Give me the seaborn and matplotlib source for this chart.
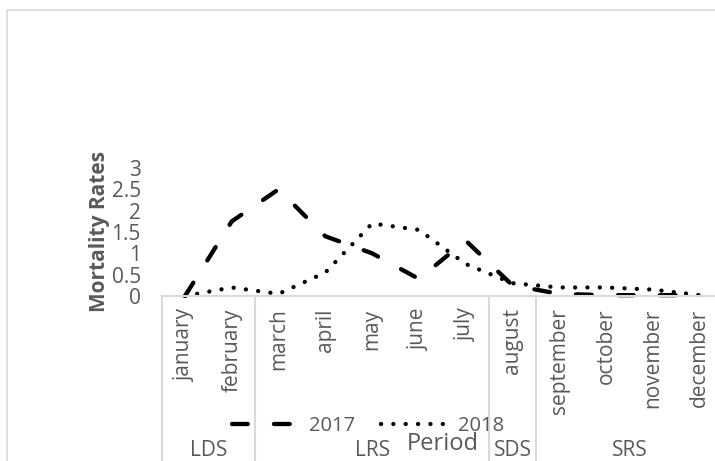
import matplotlib
matplotlib.use("Agg")
import matplotlib.pyplot as plt
import matplotlib.patches as mpatches
from matplotlib.lines import Line2D
import seaborn as sns
import pandas as pd

# Monthly mortality rates per year
months = ["january", "february", "march", "april", "may", "june",
          "july", "august", "september", "october", "november", "december"]
rates_2017 = [0.0, 1.75, 2.5, 1.4, 1.0, 0.4, 1.3, 0.25, 0.05, 0.02, 0.02, 0.02]
rates_2018 = [0.0, 0.2, 0.05, 0.55, 1.7, 1.55, 0.75, 0.3, 0.2, 0.2, 0.15, 0.02]
years = ["2017", "2018"]

# Season groups: (label, first month index, last month index)
season_labels = ["LDS", "LRS", "SDS", "SRS"]
season_first = [0, 2, 7, 8]
season_last = [1, 6, 7, 11]

yticks = [0, 0.5, 1, 1.5, 2, 2.5, 3]
ytick_labels = ["0", "0.5", "1", "1.5", "2", "2.5", "3"]

df = pd.DataFrame({
    "month": months * 2,
    "rate": rates_2017 + rates_2018,
    "year": [years[0]] * len(months) + [years[1]] * len(months),
})

sns.set_theme(style="white")
plt.rcParams["font.family"] = ["Open Sans", "DejaVu Sans"]

TXT = "#595959"
GRID = "#d9d9d9"
FS = 15
LW = 3.1
DASH = (3.65, 6.1)
DOT = (0.01, 2.86)

W, H = 715, 461
fig = plt.figure(figsize=(W / 100, H / 100), dpi=100)

# chart-area border
fig.add_artist(mpatches.Rectangle((7 / W, -0.2), 1.2, 1.2 - 10 / H,
                                  transform=fig.transFigure, fill=False,
                                  edgecolor=GRID, lw=1.2))

x0, x1 = 161.6, 723.0
y_zero, y_top = 296.0, 168.0
ax = fig.add_axes([x0 / W, (H - y_zero) / H, (x1 - x0) / W, (y_zero - y_top) / H])
ax.patch.set_alpha(0)

sns.lineplot(data=df, x="month", y="rate", style="year", sort=False,
             dashes={"2017": DASH, "2018": DOT},
             color="black", lw=LW, dash_capstyle="round",
             legend=False, ax=ax, clip_on=False)

ax.set_xlim(-0.5, 11.5)
ax.set_ylim(0, 3)
ax.set_yticks(yticks)
ax.set_yticklabels(ytick_labels)
ax.set_xticks(range(len(months)))
ax.set_xticklabels(months, rotation=90)
ax.tick_params(axis="both", length=0, labelsize=FS, labelcolor=TXT)
ax.tick_params(axis="y", pad=15)
ax.tick_params(axis="x", pad=9)

for s in ["top", "right", "left"]:
    ax.spines[s].set_visible(False)
ax.spines["bottom"].set_color(GRID)
ax.spines["bottom"].set_linewidth(1.5)

# season separators below the axis
depth = (H - y_zero + 10) / (y_zero - y_top)
for b in [-0.5, 1.5, 6.5, 7.5, 11.5]:
    ax.axvline(b, ymin=-depth, ymax=0, color=GRID, lw=1.5, clip_on=False)

# season labels
lab_y = (y_zero - 450) / (y_zero - y_top)
for lab, a, b in zip(season_labels, season_first, season_last):
    ax.text((a + b) / 2, lab_y, lab, transform=ax.get_xaxis_transform(),
            ha="center", va="center", fontsize=FS, color=TXT)

ax.set_xlabel("Period", fontsize=17, color=TXT)
ax.xaxis.set_label_coords(0.5, (y_zero - 444) / (y_zero - y_top))
ax.xaxis.label.set_va("center")
ax.set_ylabel("Mortality Rates", fontsize=15, fontweight="bold", color=TXT)
ax.yaxis.set_label_coords((100 - x0) / (x1 - x0), 0.5)
ax.yaxis.label.set_va("center")

handles = [Line2D([], [], color="black", lw=LW, dashes=DASH, dash_capstyle="round"),
           Line2D([], [], color="black", lw=LW, dashes=DOT, dash_capstyle="round")]
fig.legend(handles, years, loc="center", bbox_to_anchor=(368 / W, 1 - 426 / H),
           ncol=2, frameon=False, fontsize=14.5, labelcolor=TXT,
           handlelength=3.3, handletextpad=0.5, columnspacing=1.3,
           borderpad=0, borderaxespad=0)

fig.savefig("out.png", dpi=100)
